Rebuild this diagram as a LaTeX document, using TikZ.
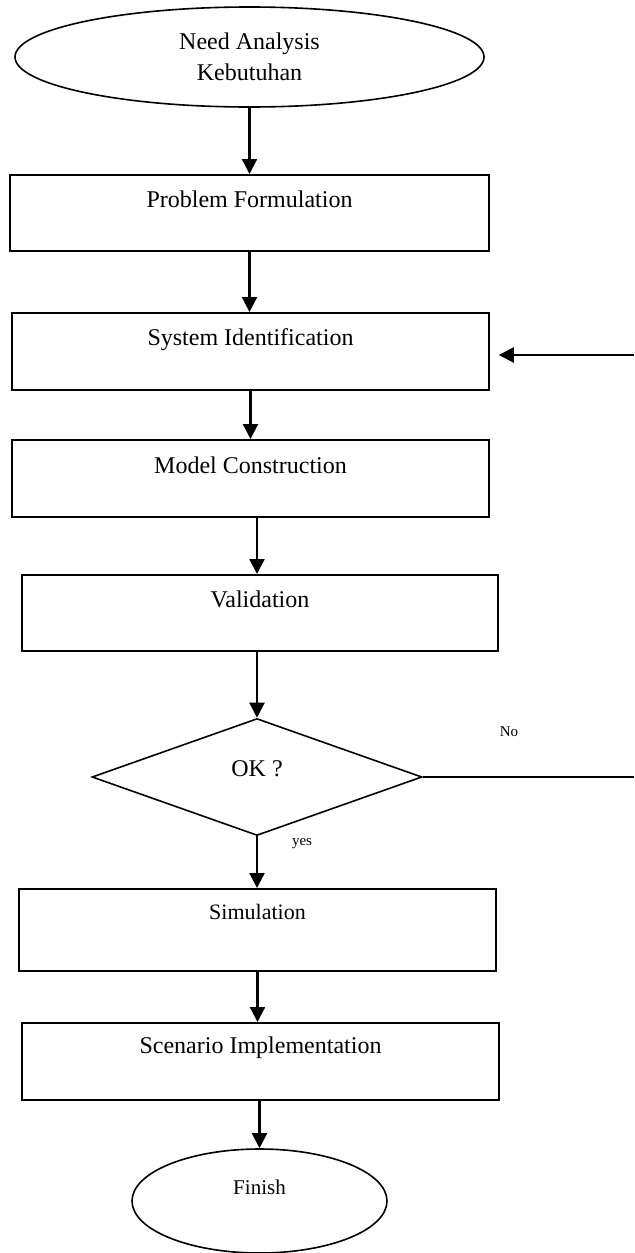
\documentclass[tikz,border=0pt]{standalone}
\usepackage{fontspec}
\setmainfont{Liberation Serif}
\usetikzlibrary{shapes.geometric,arrows.meta}

\begin{document}
\begin{tikzpicture}[x=0.5pt, y=-0.5pt,
	blocco/.style={draw, line width=0.8pt, inner sep=0pt, anchor=north, minimum width=238.5pt, font=\fontsize{12}{14}\selectfont},
	ellisse/.style={draw, ellipse, line width=0.8pt, inner sep=0pt},
	rombo/.style={draw, diamond, line width=0.8pt, inner sep=0pt},
	freccia/.style={line width=1.1pt, -{Triangle[length=7.5pt,width=7.5pt]}},
	linea/.style={line width=1pt},
	etichetta/.style={inner sep=0pt, font=\fontsize{7.5}{9}\selectfont}]
	\begin{scope}
	  \useasboundingbox (0,0) rectangle (634,1253);

	  \node[ellisse, minimum width=234.5pt, minimum height=50pt, align=center, font=\fontsize{12}{15.5}\selectfont] (need) at (249.5,57) {Need Analysis\\Kebutuhan};

	  \node[blocco, minimum width=239.5pt, text height=16.5pt, text depth=21.5pt] (prob) at (249.5,174) {Problem Formulation};
	  \node[blocco, text height=16.5pt, text depth=22pt] (sysid) at (250.5,312) {System Identification};
	  \node[blocco, text height=17pt, text depth=21.5pt] (model) at (250.5,439) {Model Construction};
	  \node[blocco, minimum width=238pt, text height=16.5pt, text depth=21.5pt] (valid) at (260,574) {Validation};

	  \node[rombo, minimum width=165pt, minimum height=58.5pt, text height=9pt, text depth=10pt, font=\fontsize{12}{14}\selectfont] (ok) at (257,777) {OK ?};

	  \node[blocco, text height=15.5pt, text depth=25.5pt, font=\fontsize{11}{13}\selectfont] (sim) at (257.5,888) {Simulation};
	  \node[blocco, text height=15.5pt, text depth=23pt] (scen) at (260.5,1022) {Scenario Implementation};

	  \node[ellisse, minimum width=127.5pt, minimum height=52pt, text height=8pt, text depth=15pt, font=\fontsize{10.5}{12}\selectfont] (finish) at (259.5,1201) {Finish};

	  % frecce verticali
	  \draw[freccia] (need.south) -- (prob.north);
	  \draw[freccia] (prob.south) -- (prob.south |- sysid.north);
	  \draw[freccia] (sysid.south) -- (sysid.south |- model.north);
	  \draw[freccia] (model.south -| ok.north) -- (valid.north -| ok.north);
	  \draw[freccia] (valid.south -| ok.north) -- (ok.north);
	  \draw[freccia] (ok.south) -- (ok.south |- sim.north);
	  \draw[freccia] (sim.south) -- (sim.south |- scen.north);
	  \draw[freccia] (scen.south -| finish.north) -- (finish.north);

	  % ritorno (tagliato al bordo)
	  \coordinate (rit1) at (634,355);
	  \coordinate (rit2) at (634,777);
	  \draw[freccia, shorten >=4.5pt] (rit1) -- (rit1 -| sysid.east);
	  \draw[linea] (ok.east) -- (rit2);

	  \node[etichetta] (no) at (509,732) {No};
	  \node[etichetta] (yes) at (302,844) {yes};
	\end{scope}
\end{tikzpicture}
\end{document}
